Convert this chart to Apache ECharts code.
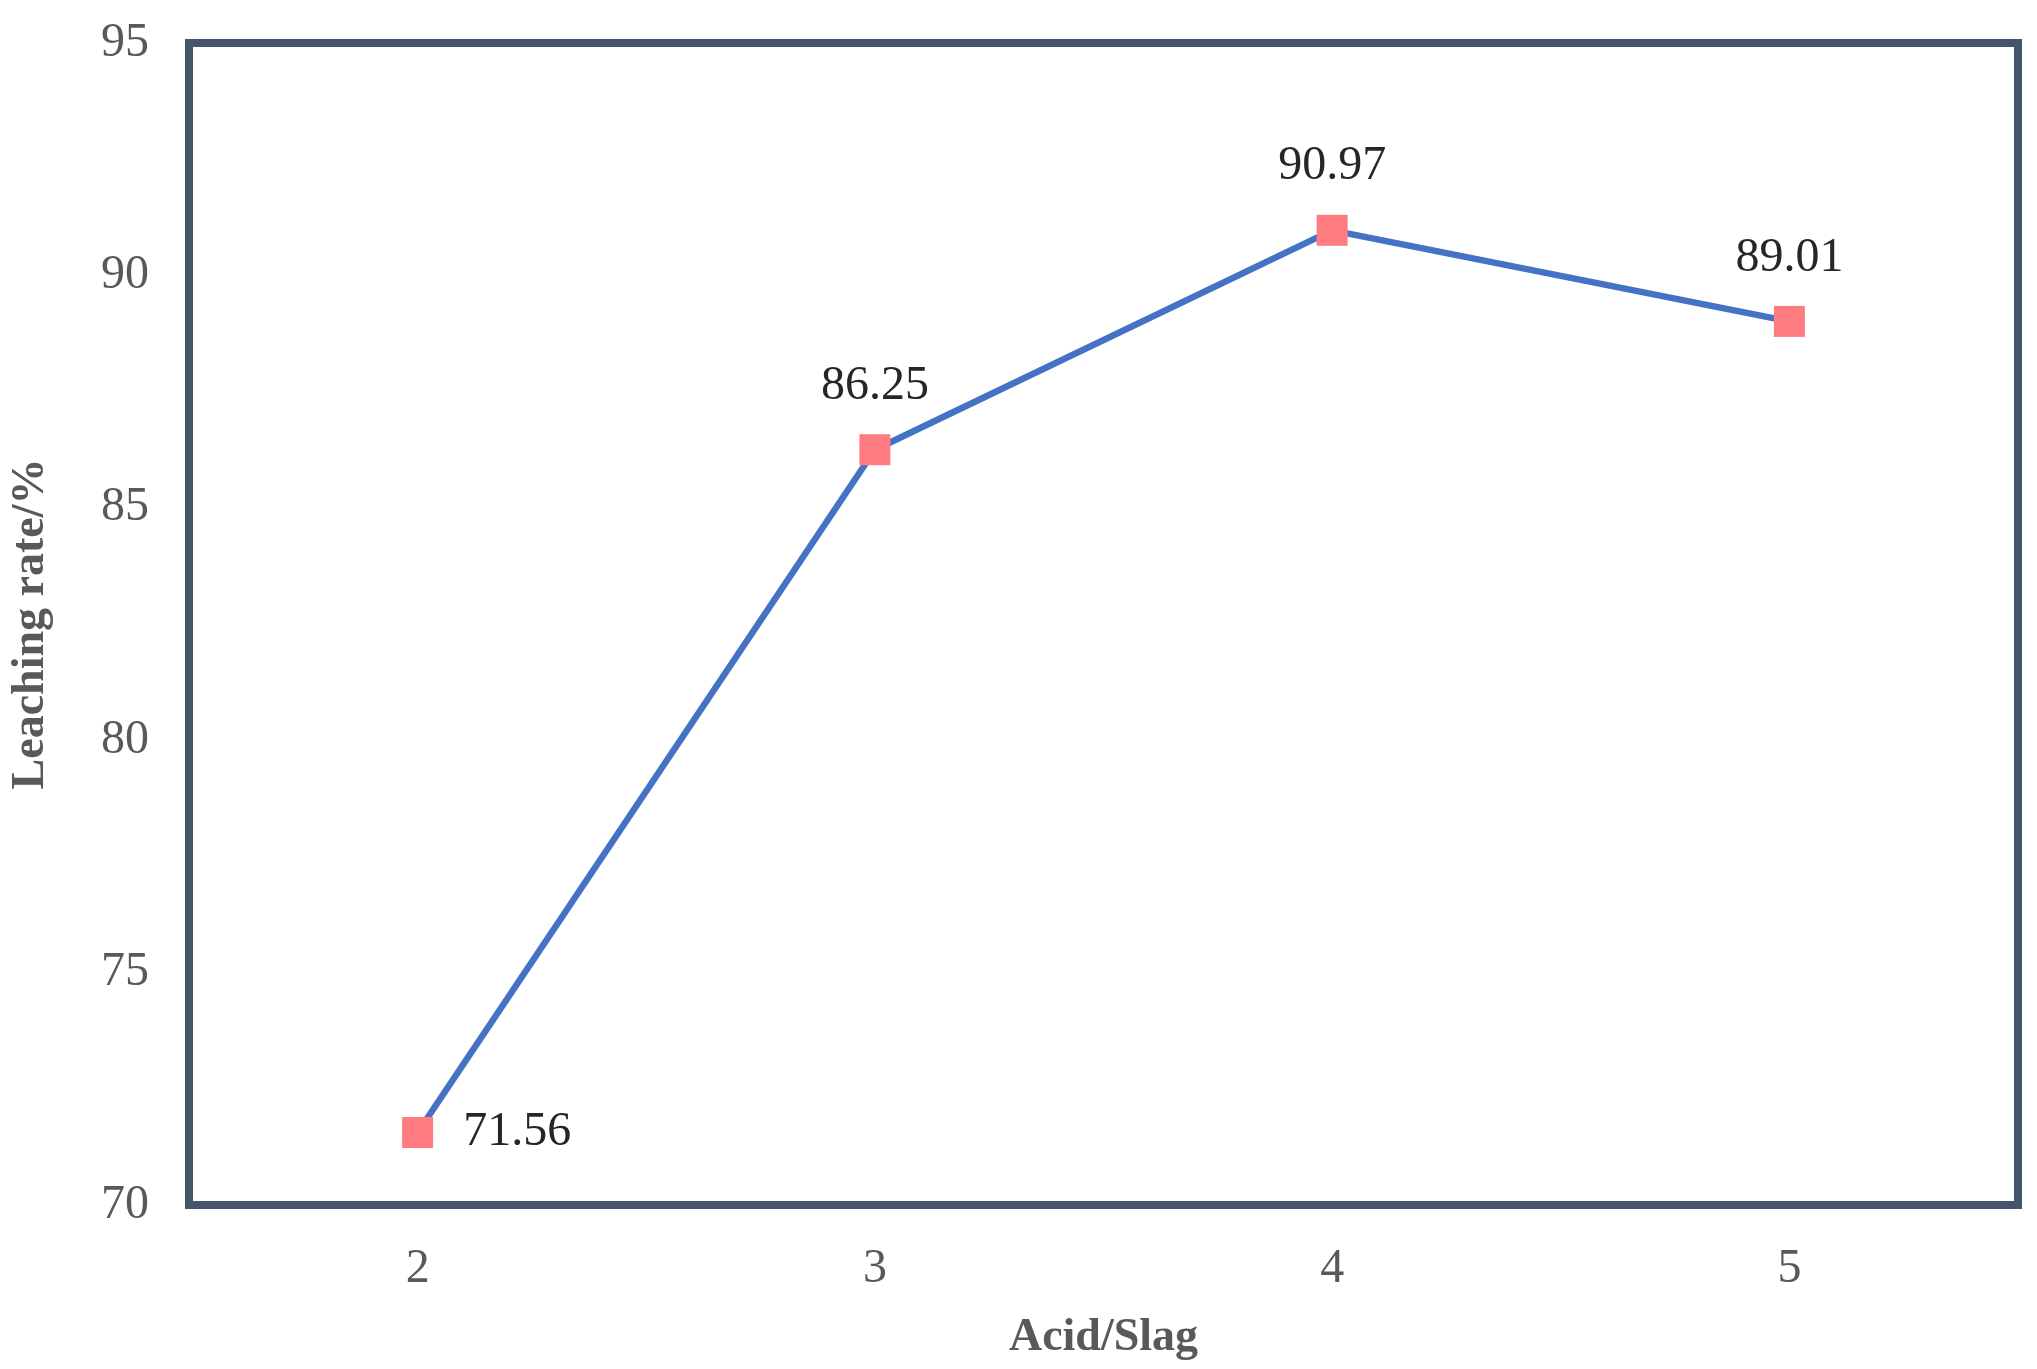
<!DOCTYPE html>
<html><head><meta charset="utf-8">
<script src="https://cdn.jsdelivr.net/npm/echarts@6/dist/echarts.min.js"></script>
<style>html,body{margin:0;background:#fff}#c{width:2037px;height:1369px}</style>
</head><body><div id="c"></div>
<script>
var categories = ['2', '3', '4', '5'];
var values = [71.56, 86.25, 90.97, 89.01];
var labelPos = ['right', 'top', 'top', 'top'];

var chart = echarts.init(document.getElementById('c'), null, { renderer: 'canvas' });
var font = 'Liberation Serif';
var axisColor = '#44546a';

chart.setOption({
    animation: false,
    grid: { left: 189, right: 19, top: 43, bottom: 164 },
    xAxis: {
        type: 'category',
        data: categories,
        boundaryGap: true,
        name: 'Acid/Slag',
        nameLocation: 'middle',
        nameGap: 110,
        nameTextStyle: { fontFamily: font, fontWeight: 'bold', fontSize: 46, color: '#595959' },
        axisLine: { lineStyle: { color: axisColor, width: 8 } },
        axisTick: { alignWithLabel: true, inside: true, length: 16, lineStyle: { color: axisColor, width: 4 } },
        axisLabel: { fontFamily: font, fontSize: 48, color: '#595959', margin: 40 }
    },
    yAxis: {
        type: 'value',
        min: 70, max: 95, interval: 5,
        name: 'Leaching rate/%',
        nameLocation: 'middle',
        nameGap: 135,
        nameTextStyle: { fontFamily: font, fontWeight: 'bold', fontSize: 46, color: '#595959' },
        axisLine: { show: true, lineStyle: { color: axisColor, width: 8 } },
        axisTick: { show: false },
        splitLine: { show: false },
        axisLabel: { fontFamily: font, fontSize: 48, color: '#595959', margin: 40 }
    },
    graphic: [{
        type: 'rect', shape: { x: 189, y: 43, width: 2037 - 189 - 19, height: 1369 - 43 - 164 },
        style: { fill: 'none', stroke: axisColor, lineWidth: 8 }, z: 10
    }],
    series: [{
        type: 'line',
        data: values.map(function (v, i) {
            return { value: v, label: { position: labelPos[i], distance: labelPos[i] === 'right' ? 30 : 24 } };
        }),
        lineStyle: { color: '#4472c4', width: 6.5 },
        symbol: 'rect',
        symbolSize: 31,
        itemStyle: { color: '#ff7c80' },
        label: { show: true, fontFamily: font, fontSize: 48, color: '#262626',
            formatter: function (p) { return p.value.toFixed(2); } },
        z: 5
    }]
});
</script></body></html>
